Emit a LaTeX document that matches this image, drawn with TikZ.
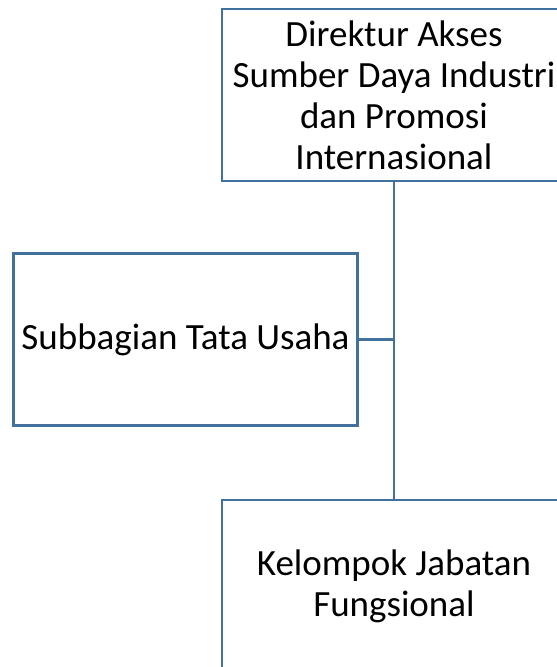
\documentclass[tikz,border=0pt]{standalone}
\usepackage{fontspec}
\setmainfont{Carlito}
\usepackage{tikz}
\usetikzlibrary{positioning}

\definecolor{boxline}{RGB}{65,113,156}

\begin{document}
\begin{tikzpicture}[x=1pt, y=-1pt, font=\fontsize{37}{41}\selectfont]

  % Define styles for the boxes and lines
  \tikzstyle{unit} = [draw=boxline, line width=2.2pt, rectangle, minimum width=344pt, minimum height=172pt, align=center, inner sep=0pt]
  \tikzstyle{link} = [draw=boxline, line width=2.2pt]

  \useasboundingbox (0,0) rectangle (557,667);
  \clip (0,0) rectangle (557,667);

  \node (direktur) [unit] at (394,95) {Direktur Akses\\Sumber Daya Industri\\dan Promosi\\Internasional};
  \node (subbag) [unit] at (185.5,339.5) {Subbagian Tata Usaha};
  \node (kjf) [unit, below=317pt of direktur] {Kelompok Jabatan\\Fungsional};

  \draw[link] (direktur.south) -- (kjf.north);
  \draw[link] (subbag.east) -- (subbag.east -| direktur.south);

\end{tikzpicture}
\end{document}
